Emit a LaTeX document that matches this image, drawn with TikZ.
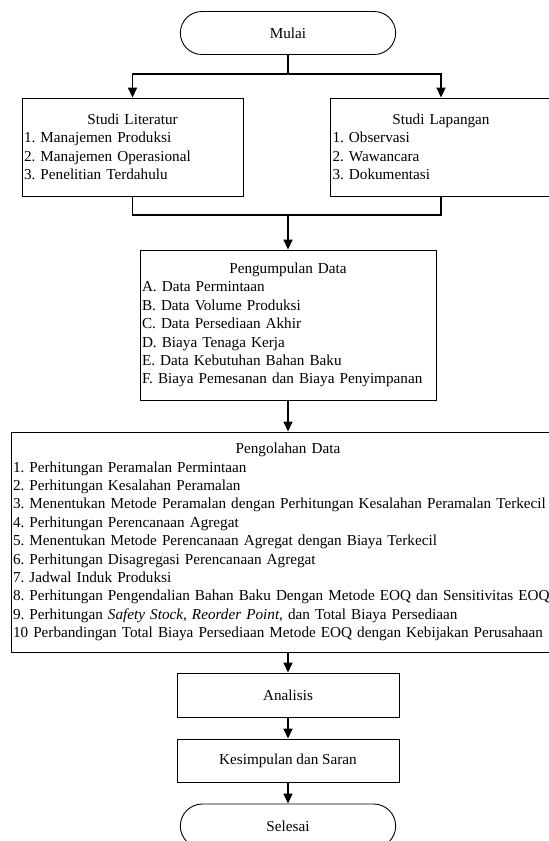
\documentclass[tikz,border=0pt]{standalone}
\usepackage{fontspec}
\setmainfont{Liberation Serif}
\usetikzlibrary{arrows.meta,positioning,shapes.misc}

\begin{document}
\begin{tikzpicture}[
    x=1pt, y=1pt,
    every node/.style={font=\fontsize{15.2}{18.4}\selectfont\frenchspacing},
    terminal/.style={rounded rectangle, draw, line width=0.9pt, minimum width=222pt, minimum height=43pt},
    prosesbox/.style={rectangle, draw, line width=0.9pt, minimum width=222pt, minimum height=44pt},
    listbox/.style={rectangle, draw, line width=0.9pt, align=left, inner xsep=2pt},
    arrow/.style={-{Triangle[length=10pt,width=9pt]}, line width=1.6pt},
    link/.style={line width=1.6pt}
  ]
  \useasboundingbox (0,0) rectangle (549,-841);

  % mulai
  \node[terminal] (mulai) at (288,-33) {Mulai};

  % studi literatur dan studi lapangan
  \node[listbox, text width=217pt, minimum height=98pt] (lit) at (132.5,-147) {%
    {\centering Studi Literatur\par}\raggedright
    1. Manajemen Produksi\\
    2. Manajemen Operasional\\
    3. Penelitian Terdahulu};
  \node[listbox, text width=217pt, minimum height=98pt] (lap) at (441,-147) {%
    {\centering Studi Lapangan\par}\raggedright
    1. Observasi\\
    2. Wawancara\\
    3. Dokumentasi};

  % pengumpulan data
  \node[listbox, text width=292pt, minimum height=150pt] (kumpul) at (288,-325) {%
    {\centering Pengumpulan Data\par}\raggedright
    A. Data Permintaan\\
    B. Data Volume Produksi\\
    C. Data Persediaan Akhir\\
    D. Biaya Tenaga Kerja\\
    E. Data Kebutuhan Bahan Baku\\
    F. Biaya Pemesanan dan Biaya Penyimpanan};

  % pengolahan data
  \node[listbox, text width=550pt, minimum height=220pt] (olah) at (288,-542) {%
    {\centering Pengolahan Data\par}\raggedright
    1. Perhitungan Peramalan Permintaan\\
    2. Perhitungan Kesalahan Peramalan\\
    3. Menentukan Metode Peramalan dengan Perhitungan Kesalahan Peramalan Terkecil\\
    4. Perhitungan Perencanaan Agregat\\
    5. Menentukan Metode Perencanaan Agregat dengan Biaya Terkecil\\
    6. Perhitungan Disagregasi Perencanaan Agregat\\
    7. Jadwal Induk Produksi\\
    8. Perhitungan Pengendalian Bahan Baku Dengan Metode EOQ dan Sensitivitas EOQ\\
    9. Perhitungan \textit{Safety Stock, Reorder Point}, dan Total Biaya Persediaan\\
    10 Perbandingan Total Biaya Persediaan Metode EOQ dengan Kebijakan Perusahaan};

  % analisis, kesimpulan, selesai
  \node[prosesbox] (analisis) at (288,-695) {Analisis};
  \node[prosesbox, minimum height=43pt] (simpul) at (288,-760.5) {Kesimpulan dan Saran};
  \node[terminal, minimum height=44pt] (selesai) at (288,-826) {Selesai};

  % garis penghubung
  \coordinate (cabang) at (288,-74);
  \coordinate (gabung) at (288,-215);
  \draw[link] (mulai.south) -- (cabang);
  \draw[arrow] (cabang) -| (lit.north);
  \draw[arrow] (cabang) -| (lap.north);
  \draw[link] (lit.south) |- (gabung);
  \draw[link] (lap.south) |- (gabung);
  \draw[arrow] (gabung) -- (kumpul.north);
  \draw[arrow] (kumpul.south) -- (olah.north);
  \draw[arrow] (olah.south) -- (analisis.north);
  \draw[arrow] (analisis.south) -- (simpul.north);
  \draw[arrow] (simpul.south) -- (selesai.north);
\end{tikzpicture}
\end{document}
